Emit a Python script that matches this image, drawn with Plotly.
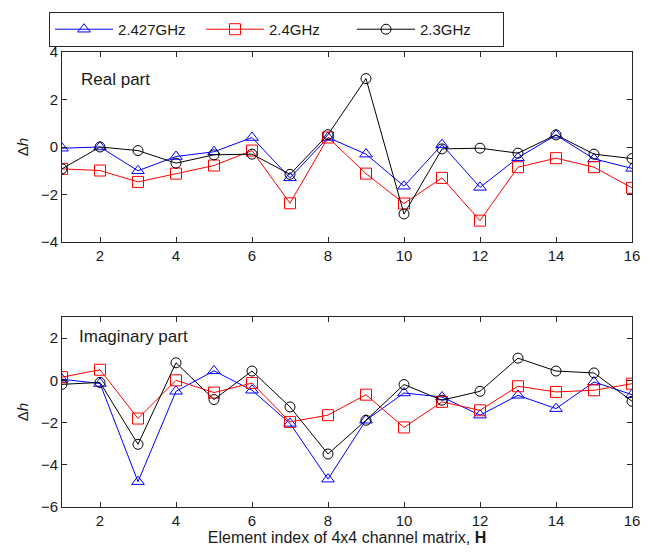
import plotly.graph_objects as go

idx = list(range(1, 17))
series_names = ["2.427GHz", "2.4GHz", "2.3GHz"]

real_2427 = [-0.05, 0.0, -1.0, -0.4, -0.2, 0.4, -1.3, 0.4, -0.3, -1.65, 0.1, -1.7, -0.45, 0.5, -0.5, -0.9]
real_24 = [-0.92, -0.99, -1.47, -1.12, -0.78, -0.15, -2.37, 0.4, -1.12, -2.38, -1.3, -3.1, -0.85, -0.47, -0.85, -1.72]
real_23 = [-0.92, 0.0, -0.15, -0.68, -0.33, -0.3, -1.15, 0.52, 2.88, -2.82, -0.08, -0.05, -0.26, 0.51, -0.3, -0.49]

imag_2427 = [0.05, -0.15, -4.8, -0.52, 0.45, -0.47, -2.04, -4.68, -1.89, -0.6, -0.79, -1.65, -0.71, -1.34, -0.08, -0.68]
imag_24 = [0.15, 0.5, -1.81, 0.0, -0.58, -0.13, -1.97, -1.65, -0.68, -2.23, -1.02, -1.42, -0.28, -0.55, -0.47, -0.16]
imag_23 = [-0.19, -0.1, -3.03, 0.83, -0.91, 0.44, -1.26, -3.49, -1.89, -0.2, -0.94, -0.52, 1.05, 0.44, 0.35, -0.99]

x_ticks = [2, 4, 6, 8, 10, 12, 14, 16]
real_yticks = [-4, -2, 0, 2, 4]
imag_yticks = [-6, -4, -2, 0, 2]

colors = ["#0000FF", "#FF0000", "#000000"]
symbols = ["triangle-up-open", "square-open", "circle-open"]
sizes = [11, 11, 10]

FONT = "Liberation Sans, Arial, sans-serif"

fig = go.Figure()
real_data = [real_2427, real_24, real_23]
imag_data = [imag_2427, imag_24, imag_23]
for i in range(3):
    fig.add_trace(go.Scatter(
        x=idx, y=real_data[i], mode="lines+markers", name=series_names[i],
        line=dict(color=colors[i], width=1),
        marker=dict(symbol=symbols[i], size=sizes[i], color=colors[i], line=dict(width=1, color=colors[i])),
        xaxis="x", yaxis="y", showlegend=True,
    ))
for i in range(3):
    fig.add_trace(go.Scatter(
        x=idx, y=imag_data[i], mode="lines+markers", name=series_names[i],
        line=dict(color=colors[i], width=1),
        marker=dict(symbol=symbols[i], size=sizes[i], color=colors[i], line=dict(width=1, color=colors[i])),
        xaxis="x2", yaxis="y2", showlegend=False,
    ))

axis_common = dict(
    showgrid=False, zeroline=False, showline=True, linecolor="#262626", linewidth=1,
    mirror="ticks", ticks="inside", ticklen=5, tickcolor="#262626",
    tickfont=dict(family=FONT, size=15, color="#1a1a1a"), automargin=False,
)

# page body has an 8px margin, so the figure is offset by 8px right/down
fig.update_layout(
    width=643, height=551,
    margin=dict(l=54, r=19, t=44, b=52, autoexpand=False),
    paper_bgcolor="white", plot_bgcolor="white",
    font=dict(family=FONT, color="#1a1a1a"),
    xaxis=dict(domain=[0, 1], range=[1, 16], tickvals=x_ticks, anchor="y", **axis_common),
    yaxis=dict(domain=[0.5824, 1], range=[-4, 4], tickvals=real_yticks, anchor="x",
               title=dict(text="Δ<i>h</i>", font=dict(family=FONT, size=15), standoff=8), **axis_common),
    xaxis2=dict(domain=[0, 1], range=[1, 16], tickvals=x_ticks, anchor="y2",
                title=dict(text="Element index of 4x4 channel matrix, <b>H</b>", font=dict(family=FONT, size=16), standoff=2),
                **axis_common),
    yaxis2=dict(domain=[0, 0.4176], range=[-6, 3], tickvals=imag_yticks, anchor="x2",
                title=dict(text="Δ<i>h</i>", font=dict(family=FONT, size=15), standoff=8), **axis_common),
    legend=dict(
        orientation="h", x=-0.0228, y=1.088, xanchor="left", yanchor="top",
        bordercolor="#262626", borderwidth=1, bgcolor="white",
        font=dict(family=FONT, size=15, color="#1a1a1a"),
        itemwidth=58, entrywidth=78, entrywidthmode="pixels",
    ),
    annotations=[
        dict(text="Real part", xref="paper", yref="paper", x=0.03, y=0.965, xanchor="left", yanchor="top",
             showarrow=False, font=dict(family=FONT, size=17, color="#1a1a1a")),
        dict(text="Imaginary part", xref="paper", yref="paper", x=0.027, y=0.40, xanchor="left", yanchor="top",
             showarrow=False, font=dict(family=FONT, size=17, color="#1a1a1a")),
    ],
)

fig.write_html("out.html")
